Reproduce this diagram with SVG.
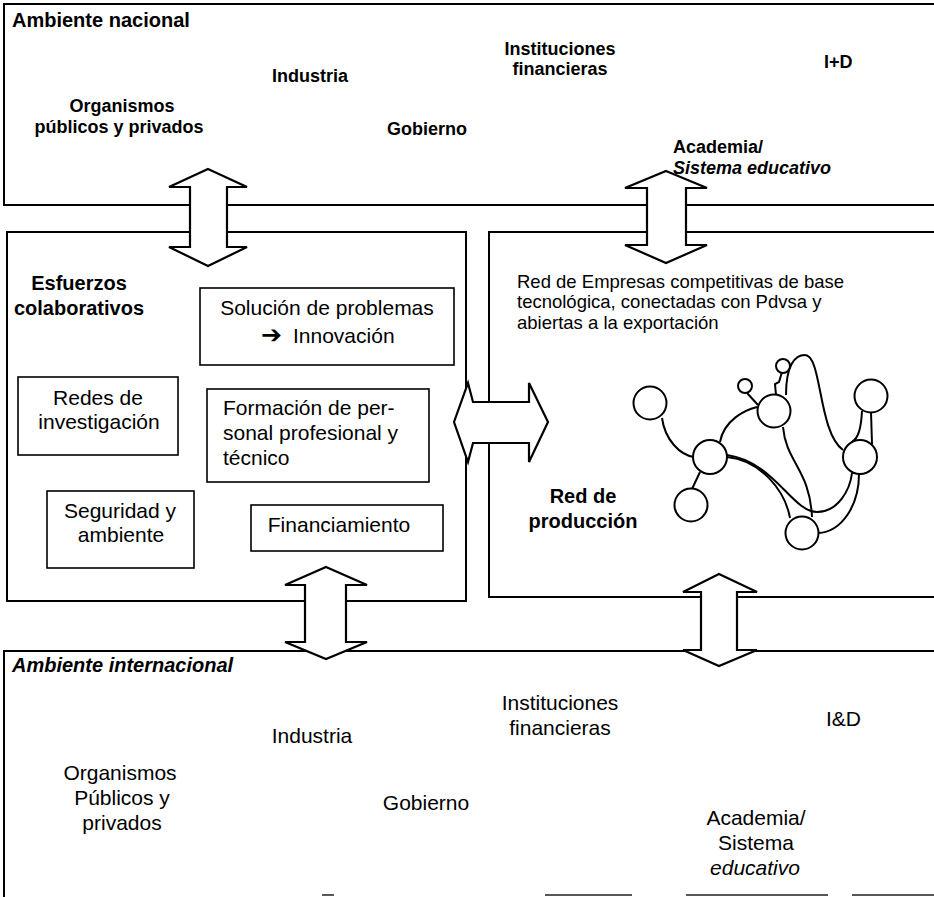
<svg xmlns="http://www.w3.org/2000/svg" width="934" height="897" viewBox="0 0 934 897">
<style>
.box{fill:none;stroke:#000;stroke-width:2}
.ib{fill:#fff;stroke:#000;stroke-width:1.6}
.arr{fill:#fff;stroke:#000;stroke-width:2.2;stroke-linejoin:miter}
.t{font-family:"Liberation Sans",Arial,sans-serif;fill:#000}
.tb{font-family:"Liberation Sans",Arial,sans-serif;font-weight:bold;font-size:18px;fill:#000}
.ttl{font-family:"Liberation Sans",Arial,sans-serif;font-weight:bold;font-size:20px;fill:#000}
.m{font-size:21px}
.bt{font-size:21px}
.net circle{fill:#fff;stroke:#000;stroke-width:2}
.net path{fill:none;stroke:#000;stroke-width:2}
.c{text-anchor:middle}
</style>
<rect width="934" height="897" fill="#fff"/>

<g id="ambiente-nacional">
<rect class="box" x="4" y="4" width="940" height="201"/>
<text class="ttl" x="12" y="27">Ambiente nacional</text>
<text class="tb c" x="310" y="82">Industria</text>
<text class="tb c" x="560" y="55">Instituciones</text>
<text class="tb c" x="560" y="75">financieras</text>
<text class="tb" x="824" y="68">I+D</text>
<text class="tb c" x="122" y="112">Organismos</text>
<text class="tb c" x="119" y="133">públicos y privados</text>
<text class="tb" x="387" y="135">Gobierno</text>
<text class="tb" x="673" y="153">Academia/</text>
<text class="tb" x="673" y="174" font-style="italic">Sistema educativo</text>
</g>

<g id="esfuerzos-colaborativos">
<rect class="box" x="7" y="232" width="459" height="369"/>
<text class="ttl c" x="79" y="290" font-size="21">Esfuerzos</text>
<text class="ttl c" x="79" y="315" font-size="21">colaborativos</text>
</g>

<g id="solucion">
<rect class="ib" x="200" y="288" width="254" height="77"/>
<text class="t m c" x="327" y="315">Solución de problemas</text>
<text x="261" y="343" font-family="DejaVu Sans,sans-serif" font-weight="bold" font-size="25">➔</text>
<text class="t m" x="293" y="343">Innovación</text>
</g>

<g id="redes">
<rect class="ib" x="18" y="377" width="160" height="78"/>
<text class="t m c" x="98" y="405">Redes de</text>
<text class="t m c" x="99" y="429">investigación</text>
</g>

<g id="formacion">
<rect class="ib" x="207" y="389" width="222" height="93"/>
<text class="t m" x="223" y="415">Formación de per-</text>
<text class="t m" x="223" y="440">sonal profesional y</text>
<text class="t m" x="223" y="465">técnico</text>
</g>

<g id="seguridad">
<rect class="ib" x="47" y="491" width="147" height="77"/>
<text class="t m c" x="120" y="518">Seguridad y</text>
<text class="t m c" x="121" y="542">ambiente</text>
</g>

<g id="financiamiento">
<rect class="ib" x="251" y="505" width="192" height="46"/>
<text class="t m c" x="339" y="532">Financiamiento</text>
</g>

<g id="red-produccion">
<rect class="box" x="489" y="232" width="460" height="365"/>
<text class="t" x="517" y="288" font-size="18.5">Red de Empresas competitivas de base</text>
<text class="t" x="517" y="308" font-size="18.5">tecnológica, conectadas con Pdvsa y</text>
<text class="t" x="517" y="329" font-size="18.5">abiertas a la exportación</text>
<text class="ttl c" x="583" y="503" font-size="21">Red de</text>
<text class="ttl c" x="583" y="528" font-size="21">producción</text>
<g class="net">
<path d="M662 418 C665 440 680 455 694 457"/>
<path d="M700 472 L692 489"/>
<path d="M720 442 C724 420 745 410 757 407"/>
<path d="M747 393 L758 405"/>
<path d="M782 372 L779 382 L775 384 L776 395"/>
<path d="M786 395 C786 365 795 355 805 355 C822 355 818 432 843 450"/>
<path d="M783 427 C786 462 810 470 812 517"/>
<path d="M727 457 C760 460 785 490 790 518"/>
<path d="M727 455 C775 462 792 512 817 512 C838 512 850 490 852 473"/>
<path d="M859 474 C859 505 842 532 818 533"/>
<path d="M871 412 L872 444"/>
<path d="M862 411 C861 430 858 438 852 442"/>
<circle cx="650" cy="403" r="16.5"/>
<circle cx="710" cy="457" r="17"/>
<circle cx="691" cy="505" r="16.5"/>
<circle cx="774" cy="411" r="16.5"/>
<circle cx="745" cy="386" r="7"/>
<circle cx="783" cy="366" r="7"/>
<circle cx="871" cy="396" r="16.5"/>
<circle cx="860" cy="457" r="17"/>
<circle cx="802" cy="533" r="16.5"/>
</g>
</g>

<g id="ambiente-internacional">
<path class="box" d="M4 897 V651 H940"/>
<path d="M322 895 H334 M545 895 H632 M686 895 H828 M852 895 H934" stroke="#222" stroke-width="1.6"/>
<text class="ttl" x="12" y="672" font-style="italic">Ambiente internacional</text>
<text class="t bt c" x="560" y="710">Instituciones</text>
<text class="t bt c" x="560" y="735">financieras</text>
<text class="t bt" x="826" y="726">I&amp;D</text>
<text class="t bt c" x="312" y="743">Industria</text>
<text class="t bt c" x="120" y="780">Organismos</text>
<text class="t bt c" x="122" y="805">Públicos y</text>
<text class="t bt c" x="122" y="830">privados</text>
<text class="t bt c" x="426" y="810">Gobierno</text>
<text class="t bt c" x="756" y="825">Academia/</text>
<text class="t bt c" x="756" y="850">Sistema</text>
<text class="t bt c" x="755" y="875" font-style="italic">educativo</text>
</g>

<g id="connectors">
<polygon class="arr" points="208,169 247,187 227,187 227,247 247,247 208,266 169,247 190,247 190,187 169,187"/>
<polygon class="arr" points="666,171 707,188 686,188 686,245 707,245 666,263 625,245 647,245 647,188 625,188"/>
<polygon class="arr" points="454,422 468,383 473,402 529,402 529,383 548,422 529,462 529,443 473,443 468,462"/>
<polygon class="arr" points="326,567 367,585 346,585 346,642 367,642 326,659 285,642 305,642 305,585 285,585"/>
<polygon class="arr" points="719,574 757,592 737,592 737,650 757,650 719,666 683,650 701,650 701,592 683,592"/>
</g>
</svg>
